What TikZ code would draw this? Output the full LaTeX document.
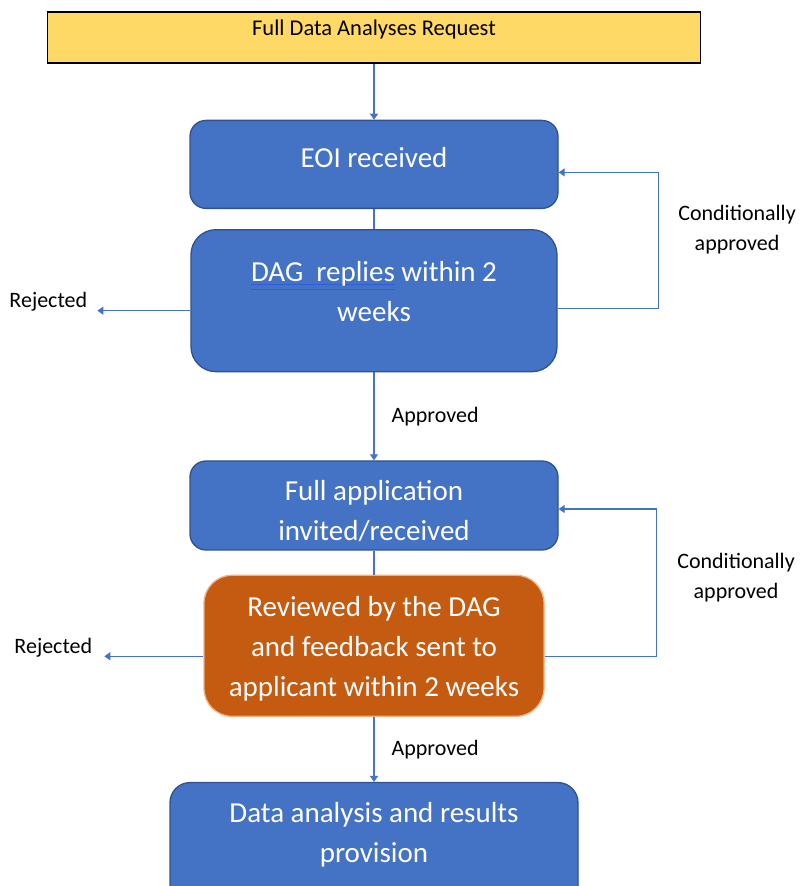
\documentclass[tikz,border=0pt]{standalone}
\usepackage{fontspec}
\setmainfont{Carlito}
\usetikzlibrary{positioning,arrows.meta}
\definecolor{boxblue}{HTML}{4472C4}
\definecolor{edgeblue}{HTML}{2F528F}
\definecolor{reqyellow}{HTML}{FFD966}
\definecolor{revorange}{HTML}{C55A11}
\definecolor{revedge}{HTML}{F4B183}
\definecolor{markblue}{HTML}{2E5FD8}
\newcommand{\spellmark}[1]{\setbox0\hbox{#1}\rlap{\color{markblue}\rule[-3.4pt]{\wd0}{1.6pt}}\rlap{\color{markblue}\rule[-8.4pt]{\wd0}{1.6pt}}\box0\relax}

\begin{document}
\begin{tikzpicture}[x=1pt,y=1pt,
	stage/.style={draw=edgeblue,line width=1.3pt,fill=boxblue,text=white,rounded corners=16pt,align=center,inner sep=0pt,font=\fontsize{29}{40}\selectfont},
	review/.style={stage,draw=revedge,fill=revorange,rounded corners=28pt},
	request/.style={draw=black,line width=1.5pt,fill=reqyellow,inner sep=0pt,minimum width=653pt,minimum height=51pt,font=\fontsize{22.5}{27}\selectfont},
	note/.style={align=center,inner sep=0pt,font=\fontsize{22}{30}\selectfont},
	flow/.style={draw=boxblue,line width=1.3pt,-{Triangle[width=8pt,length=6pt]}},
	link/.style={draw=boxblue,line width=1.3pt}]
	\useasboundingbox (0,0) rectangle (804,886);
	\node[request,text depth=20pt] (req) at (374,848.5) {Full Data Analyses Request};
	\node[stage,below=56pt of req,minimum width=368pt,minimum height=88pt,text depth=14pt] (eoi) {EOI received};
	\node[stage,below=20pt of eoi,minimum width=366pt,minimum height=142pt,rounded corners=25pt,text depth=18pt] (dag) {\spellmark{DAG\ \ replies} within 2\\weeks};
	\node[stage,below=88pt of dag,minimum width=368pt,minimum height=89pt,text height=71pt] (full) {Full application\\invited/received};
	\node[review,below=24pt of full,minimum width=340pt,minimum height=141pt,text height=106pt] (rev) {Reviewed by the DAG\\and feedback sent to\\applicant within 2 weeks};
	\node[stage,below=65pt of rev,minimum width=408pt,minimum height=140pt,rounded corners=20pt,text depth=41pt] (final) {Data analysis and results\\provision};
	\path (req) edge[flow] (eoi)
		 (eoi) edge[link] (dag)
		 (dag) edge[flow] node[note,right=17pt] (appr1) {Approved} (full)
		 (full) edge[link] (rev)
		 (rev) edge[flow] node[note,right=17pt] (appr2) {Approved} (final);
	% loops back for conditional approval
	\draw[flow] ([yshift=-8pt]dag.east) -- ++(101pt,0) |- node[note,pos=0.29,right=19pt] (cond1) {Conditionally\\approved} ([yshift=-8pt]eoi.east);
	\draw[flow] ([yshift=-10.5pt]rev.east) -- ++(112pt,0) |- node[note,pos=0.267,right=20pt] (cond2) {Conditionally\\approved} ([yshift=-3.5pt]full.east);
	% rejections
	\draw[flow] ([yshift=-10pt]dag.west) -- ++(-93pt,0) coordinate (rej1);
	\node[note,left=10pt of rej1,yshift=9pt] (rejtext1) {Rejected};
	\draw[flow] ([yshift=-10.5pt]rev.west) -- ++(-99pt,0) coordinate (rej2);
	\node[note,left=12pt of rej2,yshift=9pt] (rejtext2) {Rejected};
\end{tikzpicture}
\end{document}
